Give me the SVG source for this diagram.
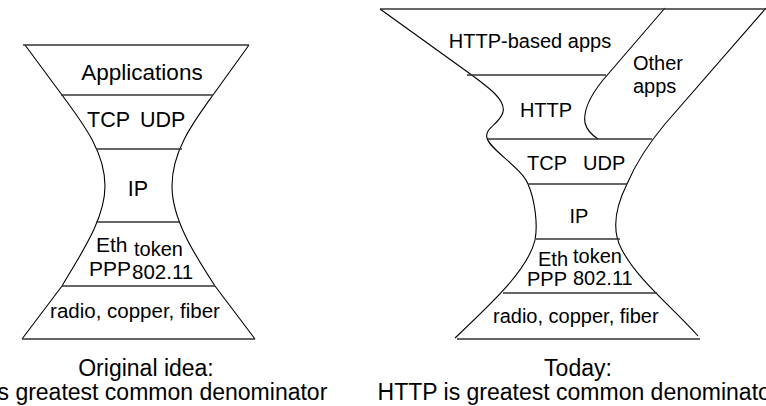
<svg xmlns="http://www.w3.org/2000/svg" width="766" height="406" viewBox="0 0 766 406">
<style>
.side{fill:none;stroke:#000;stroke-width:1.1}
.sep{fill:none;stroke:#333;stroke-width:1.4}
text{font-family:"Liberation Sans",Arial,sans-serif;fill:#000}
.m{text-anchor:middle}
</style>
<rect width="766" height="406" fill="#fff"/>
<g id="original">
  <g id="left-outline">
    <path class="side" d="M25,45 L62,95 C80,120 105,150 105,186 C105,220 80,255 62,286 L22,339"/>
    <path class="side" d="M249,45 L213,95 C195,120 172,150 172,186 C172,220 195,255 215,286 L255,339"/>
    <line class="sep" x1="23" y1="45" x2="249" y2="45"/>
    <line class="sep" x1="61" y1="95" x2="213" y2="95"/>
    <line class="sep" x1="96" y1="149" x2="182" y2="149"/>
    <line class="sep" x1="96" y1="222" x2="179" y2="222"/>
    <line class="sep" x1="62" y1="286" x2="215" y2="286"/>
    <line class="sep" x1="22" y1="339" x2="255" y2="339"/>
  </g>
  <g id="l-apps"><text class="m" x="142" y="80" font-size="22.5">Applications</text></g>
  <g id="l-transport"><text x="87" y="127" font-size="21.5">TCP</text><text x="140" y="127" font-size="21.5">UDP</text></g>
  <g id="l-ip"><text class="m" x="138" y="196" font-size="21.5">IP</text></g>
  <g id="l-link">
    <text x="96" y="252" font-size="21">Eth</text><text x="134" y="256" font-size="20">token</text>
    <text x="89" y="276" font-size="21">PPP</text><text x="132" y="279" font-size="20.5">802.11</text>
  </g>
  <g id="l-phys"><text class="m" x="135" y="318" font-size="20.5">radio, copper, fiber</text></g>
  <g id="l-caption">
    <text class="m" x="146" y="376" font-size="23">Original idea:</text>
    <text class="m" x="146" y="400" font-size="23">IP is greatest common denominator</text>
  </g>
</g>
<g id="today">
  <g id="right-outline">
    <path class="side" d="M380,9 L462,68 C490,88 506,100 503,112 C500,124 484,128 487,138 C490,150 522,168 528,184 C535,200 538,225 535,240 C528,270 490,305 455,338"/>
    <path class="side" d="M766,8 L665,124 C650,142 635,165 627,184 C614,210 612,232 622,250 C638,280 670,305 698,336"/>
    <path class="side" d="M665,8 L603,80 C590,96 583,110 585,123 C587,131 592,135 598,139"/>
    <line class="sep" x1="380" y1="9" x2="766" y2="9"/>
    <line class="sep" x1="467" y1="75" x2="606" y2="75"/>
    <line class="sep" x1="488" y1="139" x2="652" y2="139"/>
    <line class="sep" x1="528" y1="184" x2="627" y2="184"/>
    <line class="sep" x1="536" y1="239" x2="620" y2="239"/>
    <line class="sep" x1="503" y1="293" x2="657" y2="293"/>
    <line class="sep" x1="457" y1="339" x2="700" y2="339"/>
  </g>
  <g id="r-httpapps"><text class="m" x="530" y="48" font-size="20">HTTP-based apps</text></g>
  <g id="r-other"><text x="633" y="70" font-size="20">Other</text><text x="633" y="93" font-size="20">apps</text></g>
  <g id="r-http"><text class="m" x="546" y="117" font-size="20">HTTP</text></g>
  <g id="r-transport"><text x="527" y="170" font-size="20">TCP</text><text x="583" y="170" font-size="20">UDP</text></g>
  <g id="r-ip"><text class="m" x="579" y="223" font-size="20">IP</text></g>
  <g id="r-link">
    <text x="538" y="266" font-size="20">Eth</text><text x="573" y="263" font-size="20">token</text>
    <text x="527" y="286" font-size="20">PPP</text><text x="573" y="285" font-size="20">802.11</text>
  </g>
  <g id="r-phys"><text x="493" y="323" font-size="20">radio, copper, fiber</text></g>
  <g id="r-caption">
    <text class="m" x="578" y="376" font-size="23">Today:</text>
    <text class="m" x="578" y="400" font-size="23">HTTP is greatest common denominator</text>
  </g>
</g>
</svg>
